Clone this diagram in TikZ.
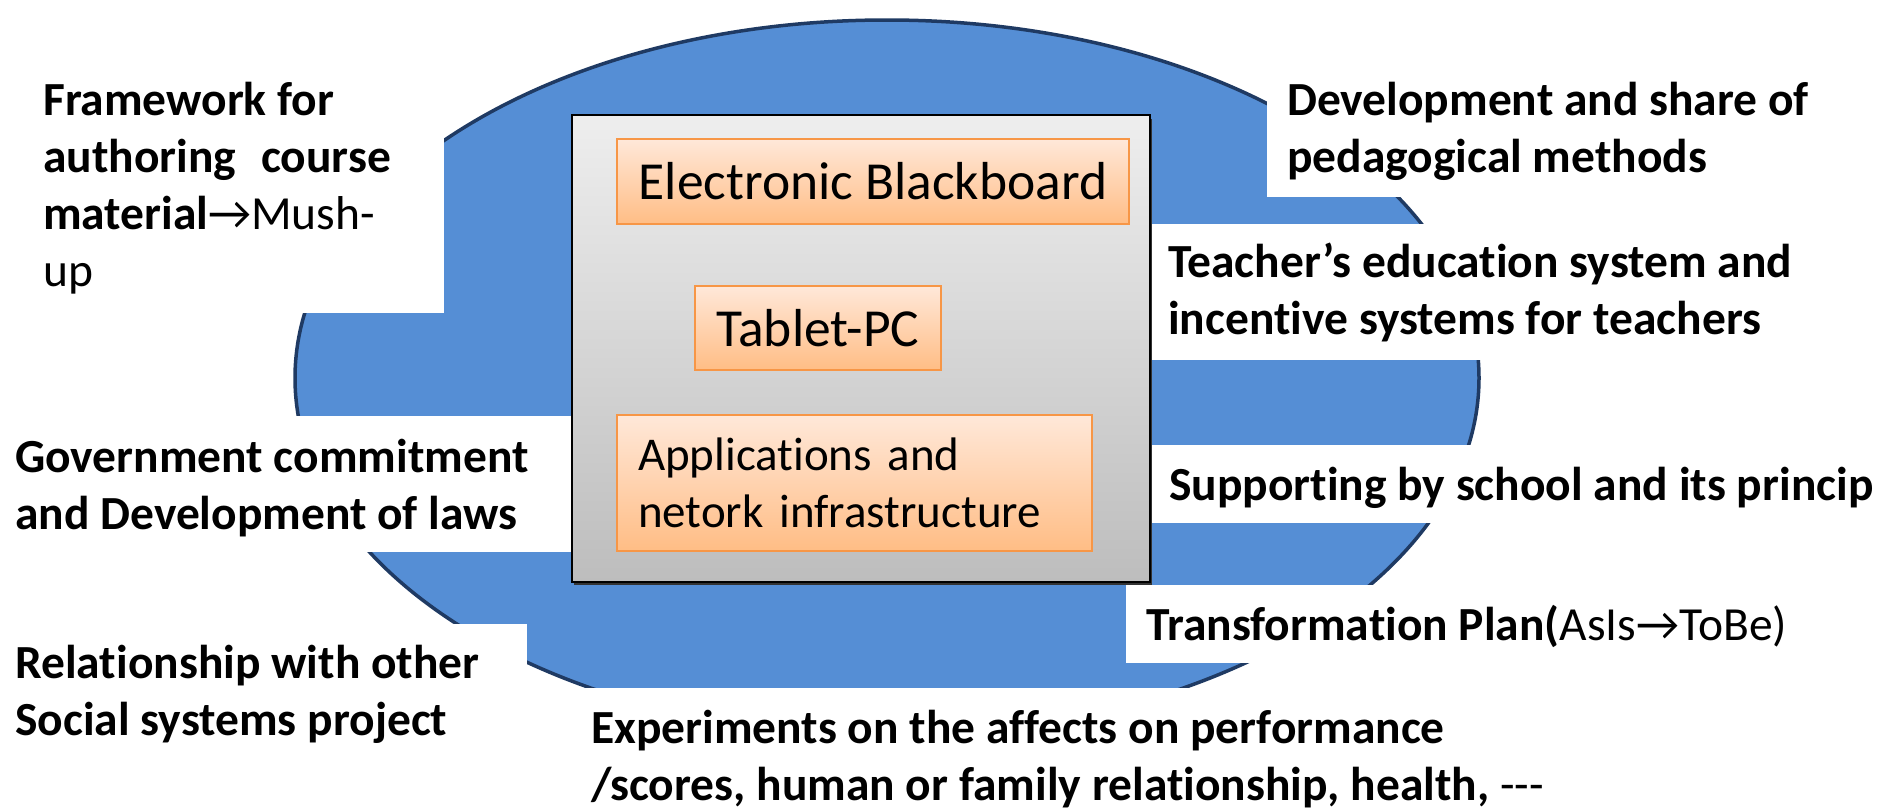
\documentclass[tikz,border=0pt]{standalone}
\usepackage{fontspec}
\setmainfont{Carlito}[Ligatures={TeX,NoCommon}]
\usetikzlibrary{shapes.geometric}
\definecolor{blobfill}{HTML}{558ED5}
\definecolor{blobline}{HTML}{1F3A63}
\definecolor{orline}{HTML}{F79646}
\definecolor{ortop}{HTML}{FFE8D9}
\definecolor{orbot}{HTML}{FFBD85}
\definecolor{grtop}{HTML}{EEEEEE}
\definecolor{grbot}{HTML}{BDBDBD}
\newcommand{\tstrut}{\rule{0pt}{40pt}}
\newcommand{\arr}{{\mdseries →}}
\tikzset{
 lbl/.style={anchor=north west, inner sep=0pt, align=left, font=\fontsize{47.5}{57}\selectfont\bfseries},
 whitebox/.style={fill=white},
 orbox/.style={draw=orline, line width=2.5pt, top color=ortop, bottom color=orbot, font=\fontsize{53.5}{57}\selectfont, inner sep=0pt},
 panelbox/.style={draw=black, line width=2.5pt, top color=grtop, bottom color=grbot, inner sep=0pt},
}
\begin{document}
\begin{tikzpicture}[x=1pt,y=-1pt]
\useasboundingbox (0,0) rectangle (1898,809);
% blue ellipse
\draw[fill=blobfill, draw=blobline, line width=3.5pt] (887,378) ellipse [x radius=592pt, y radius=358pt];
% white label backgrounds
\fill[whitebox] (0,60) rectangle (444,313);
\fill[whitebox] (1267,60) rectangle (1898,197);
\fill[whitebox] (1150,224) rectangle (1898,360);
\fill[whitebox] (0,416) rectangle (571,552);
\fill[whitebox] (1150,445) rectangle (1898,523);
\fill[whitebox] (1126,585) rectangle (1898,663);
\fill[whitebox] (0,624) rectangle (527,809);
\fill[whitebox] (527,688) rectangle (1898,809);
% central panel
\fill[black!80] (574,119) rectangle (1152,585);
\node[panelbox, minimum width=578pt, minimum height=467pt] (panel) at (861,348.5) {};
\node[orbox, minimum width=512pt, minimum height=85pt] (board) at (873,181.5) {Electronic Blackboard};
\node[orbox, minimum width=246pt, minimum height=84pt] (tablet) at (818,328) {Tablet-PC};
\node[orbox, minimum width=475pt, minimum height=136pt, text width=433pt, align=left, font=\fontsize{47}{57}\selectfont] (apps) at (854.5,483) {Applications and\\netork infrastructure};
% labels
\node[lbl] (frame) at (43,75) {\tstrut Framework for\\authoring\hspace{0.3em} course\\material{\mdseries\arr Mush-}\\{\mdseries up}};
\node[lbl] (dev) at (1287,75) {\tstrut Development and share of\\pedagogical methods};
\node[lbl] (teach) at (1168,237) {\tstrut Teacher’s education system and\\incentive systems for teachers};
\node[lbl] (gov) at (15,432) {\tstrut Government commitment\\and Development of laws};
\node[lbl] (supp) at (1169,460) {\tstrut Supporting by school and its princip};
\node[lbl] (trans) at (1146,600) {\tstrut Transformation Plan({\mdseries AsIs\arr ToBe)}};
\node[lbl] (rel) at (15,638) {\tstrut Relationship with other\\Social systems project};
\node[lbl] (exp) at (591,703) {\tstrut Experiments on the affects on performance\\/scores, human or family relationship, health, {\mdseries -{}-{}-}};
\end{tikzpicture}
\end{document}
